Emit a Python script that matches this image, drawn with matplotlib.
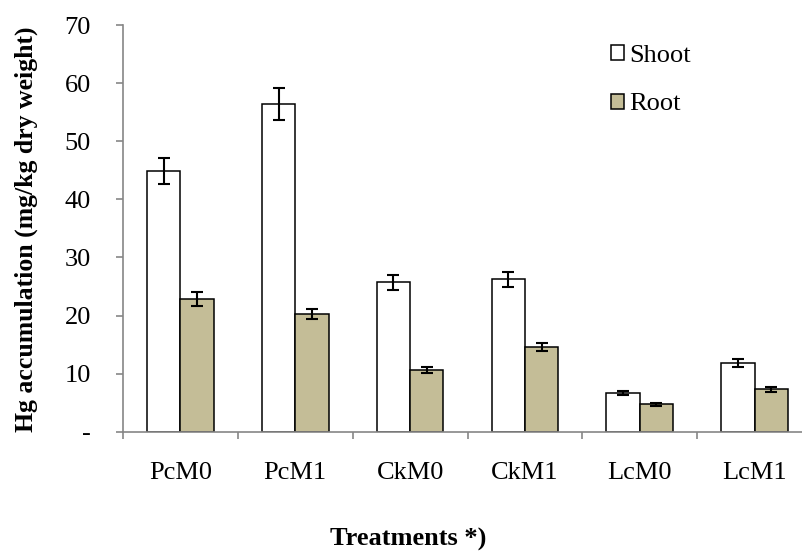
import numpy as np
import matplotlib
matplotlib.use('Agg')
from matplotlib import pyplot as plt

# data
treatments = ['PcM0', 'PcM1', 'CkM0', 'CkM1', 'LcM0', 'LcM1']
shoot = [44.9, 56.4, 25.7, 26.2, 6.7, 11.8]
shoot_err = [2.2, 2.8, 1.3, 1.3, 0.35, 0.7]
root = [22.9, 20.3, 10.6, 14.6, 4.7, 7.3]
root_err = [1.2, 0.9, 0.55, 0.75, 0.25, 0.4]
yticks = [0, 10, 20, 30, 40, 50, 60, 70]
ytick_labels = ['-', '10', '20', '30', '40', '50', '60', '70']

plt.rcParams['font.family'] = ['Liberation Serif', 'DejaVu Serif']
fs = 19

fig = plt.figure(figsize=(8.02, 5.51), dpi=100)
ax = fig.add_axes([0.1534, 0.2165, 1.0125 - 0.1534, 0.9546 - 0.2165])

x = np.arange(len(treatments))
w = 0.29
err_kw = dict(ecolor='black', elinewidth=1.5, capsize=4.3, capthick=1.5)
b1 = ax.bar(x - w / 2, shoot, w, color='white', edgecolor='black', linewidth=1.1,
            yerr=shoot_err, error_kw=err_kw, label='Shoot')
b2 = ax.bar(x + w / 2, root, w, color='#C4BD97', edgecolor='black', linewidth=1.1,
            yerr=root_err, error_kw=err_kw, label='Root')

ax.set_xlim(-0.5, len(treatments) - 0.5)
ax.set_ylim(0, 70)
ax.set_yticks(yticks)
ax.set_yticklabels(ytick_labels, fontsize=fs)
ax.set_xticks(x)
ax.set_xticklabels(treatments, fontsize=fs)
ax.set_xticks(np.arange(len(treatments) + 1) - 0.5, minor=True)
ax.tick_params(axis='x', which='major', length=0, pad=21.5)
ax.tick_params(axis='x', which='minor', length=5, color='#868686', width=1.2)
ax.tick_params(axis='y', length=5, color='#868686', width=1.2, pad=18)

for s in ['top', 'right']:
    ax.spines[s].set_visible(False)
for s in ['left', 'bottom']:
    ax.spines[s].set_color('#868686')
    ax.spines[s].set_linewidth(1.2)

ax.set_ylabel('Hg accumulation (mg/kg dry weight)', fontsize=18.5, fontweight='bold')
ax.yaxis.set_label_coords(38 / 802, 1 - 229 / 551, transform=fig.transFigure)
ax.set_xlabel('Treatments *)', fontsize=fs, fontweight='bold')
ax.xaxis.set_label_coords(408 / 802, 1 - 539 / 551, transform=fig.transFigure)
ax.xaxis.label.set_va('center')

fig.legend(handles=[b1, b2], loc='upper left', bbox_to_anchor=(611 / 802, 1 - 45 / 551),
           frameon=False, fontsize=fs, handlelength=0.5, handleheight=0.5,
           handletextpad=0.2, labelspacing=1.0, borderpad=0, borderaxespad=0)

fig.savefig('out.png', dpi=100)
